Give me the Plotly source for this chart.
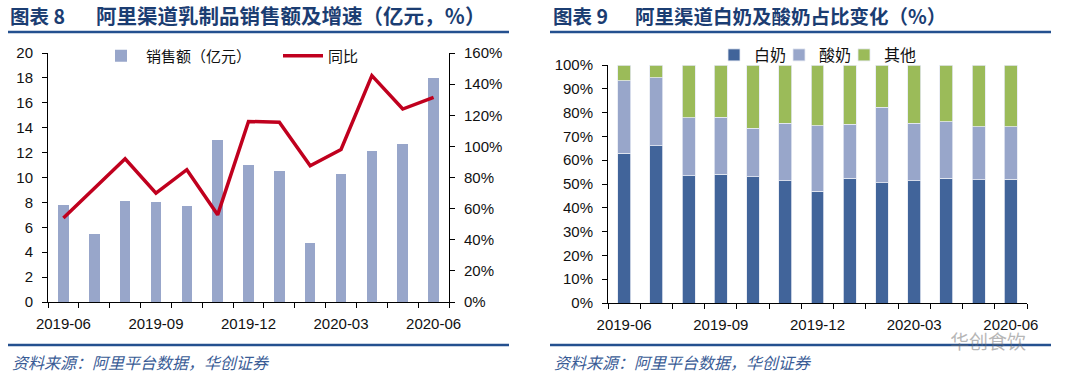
import plotly.graph_objects as go

# ---------------- data ----------------
months = ["2019-06", "2019-07", "2019-08", "2019-09", "2019-10", "2019-11", "2019-12",
          "2020-01", "2020-02", "2020-03", "2020-04", "2020-05", "2020-06"]
sales = [7.8, 5.5, 8.1, 8.0, 7.7, 13.0, 11.0, 10.5, 4.7, 10.3, 12.1, 12.7, 18.0]   # 亿元
yoy = [54, 73, 92, 70, 85, 56, 116, 115.5, 87.5, 98, 145.5, 124, 131.5]           # %

white_milk = [63.0, 66.0, 53.5, 54.2, 53.0, 51.3, 47.0, 52.4, 50.5, 51.3, 52.4, 51.7, 52.0]
yogurt = [30.4, 28.7, 24.4, 23.8, 20.4, 24.2, 27.5, 22.7, 31.7, 24.2, 23.8, 22.4, 22.1]
other = [6.6, 5.3, 22.1, 22.0, 26.6, 24.5, 25.5, 24.9, 17.8, 24.5, 23.8, 25.9, 25.9]

label_months = months[::3]

# ---------------- styling ----------------
W, H = 1072, 375
TICK_FONT = dict(family="Liberation Sans, Arial, sans-serif", size=15, color="#111111")
CJK = "Noto Sans CJK SC"
TITLE_BLUE = "#1B3D72"
LINE_BLUE = "#24508F"

def px_x(p):
    return p / W

def px_y(p):
    return 1 - p / H

idx = list(range(len(months)))
label_idx = idx[::3]

fig = go.Figure()

# left chart
fig.add_trace(go.Bar(x=idx, y=sales, width=0.34, marker=dict(color="#98A6CA", line=dict(width=0)),
                     name="销售额（亿元）", xaxis="x", yaxis="y", legend="legend"))
fig.add_trace(go.Scatter(x=idx, y=yoy, mode="lines", line=dict(color="#C0001E", width=3.5),
                         name="同比", xaxis="x", yaxis="y2", legend="legend"))

# right chart (one legend box per item for exact placement)
right_series = [(white_milk, "白奶", "#41649A", "legend2"),
                (yogurt, "酸奶", "#98A6CA", "legend3"),
                (other, "其他", "#9BBB59", "legend4")]
for vals, name, col, lg in right_series:
    fig.add_trace(go.Bar(x=idx, y=vals, width=0.4, name=name,
                         marker=dict(color=col, line=dict(width=0.8, color="#E6EAF2")),
                         xaxis="x2", yaxis="y3", legend=lg))

xcommon = dict(
    tickmode="array", tickvals=label_idx, ticktext=label_months, ticks="",
    range=[-0.5, len(months) - 0.5], showline=True, linecolor="#000000", linewidth=1,
    showgrid=False, zeroline=False, tickfont=TICK_FONT, ticklabelstandoff=8, automargin=False,
    minor=dict(tickmode="linear", tick0=-0.5, dtick=1, ticks="outside", ticklen=5,
               tickcolor="#000000", showgrid=False),
)
ycommon = dict(showline=True, linecolor="#000000", ticks="outside", ticklen=5,
               tickcolor="#000000", showgrid=False, zeroline=False, tickfont=TICK_FONT,
               ticklabelstandoff=6, automargin=False)

small_legend = dict(orientation="h", xanchor="left", yanchor="middle",
                    font=dict(family=CJK, size=16, color="#111111"), bgcolor="rgba(0,0,0,0)",
                    itemwidth=30)

fig.update_layout(
    width=W, height=H, margin=dict(l=0, r=0, t=0, b=0, autoexpand=False),
    paper_bgcolor="white", plot_bgcolor="white", barmode="stack",
    showlegend=True,
    xaxis=dict(domain=[px_x(48), px_x(449)], anchor="y", **xcommon),
    yaxis=dict(domain=[px_y(302), px_y(53)], range=[0, 20], dtick=2, anchor="x", **ycommon),
    yaxis2=dict(range=[0, 160], dtick=20, ticksuffix="%", overlaying="y", side="right",
                anchor="x", **ycommon),
    xaxis2=dict(domain=[px_x(608), px_x(1027)], anchor="y3", **xcommon),
    yaxis3=dict(domain=[px_y(303), px_y(65)], range=[0, 100], dtick=10, ticksuffix="%",
                anchor="x2", **ycommon),
    legend=dict(orientation="h", x=px_x(96), y=px_y(56), xanchor="left", yanchor="middle",
                font=dict(family=CJK, size=15, color="#111111"), bgcolor="rgba(0,0,0,0)",
                entrywidth=127, itemwidth=40, traceorder="normal"),
    legend2=dict(x=px_x(714), y=px_y(55), **small_legend),
    legend3=dict(x=px_x(779), y=px_y(55), **small_legend),
    legend4=dict(x=px_x(844), y=px_y(55), **small_legend),
)

# titles, rules, sources
shapes = []
for x0, x1 in [(8, 509), (550, 1051)]:
    shapes.append(dict(type="line", xref="paper", yref="paper", x0=px_x(x0), x1=px_x(x1),
                       y0=px_y(32), y1=px_y(32), line=dict(color=LINE_BLUE, width=2.5)))
    shapes.append(dict(type="line", xref="paper", yref="paper", x0=px_x(x0), x1=px_x(x1),
                       y0=px_y(345), y1=px_y(345), line=dict(color=LINE_BLUE, width=2.5)))
fig.update_layout(shapes=shapes)

ann = []
title_font = dict(family=CJK, size=19.5, color=TITLE_BLUE)
title_font_l = dict(family=CJK, size=20.5, color=TITLE_BLUE)
ann.append(dict(text="<b>图表 8</b>", x=px_x(8), y=px_y(15), xref="paper", yref="paper",
                xanchor="left", yanchor="middle", showarrow=False, font=title_font))
ann.append(dict(text="<b>阿里渠道乳制品销售额及增速（亿元，％）</b>", x=px_x(94), y=px_y(15),
                xref="paper", yref="paper", xanchor="left", yanchor="middle", showarrow=False,
                font=title_font_l))
ann.append(dict(text="<b>图表 9</b>", x=px_x(551), y=px_y(15), xref="paper", yref="paper",
                xanchor="left", yanchor="middle", showarrow=False, font=title_font))
ann.append(dict(text="<b>阿里渠道白奶及酸奶占比变化（%）</b>", x=px_x(633), y=px_y(15),
                xref="paper", yref="paper", xanchor="left", yanchor="middle", showarrow=False,
                font=title_font))
src_font = dict(family=CJK, size=16, color="#3A5C96")
for x0 in (10, 552):
    ann.append(dict(text="<i>资料来源：阿里平台数据，华创证券</i>", x=px_x(x0), y=px_y(362),
                    xref="paper", yref="paper", xanchor="left", yanchor="middle",
                    showarrow=False, font=src_font))
ann.append(dict(text="华创食饮", x=px_x(1028), y=px_y(340), xref="paper", yref="paper",
                xanchor="right", yanchor="middle", showarrow=False,
                font=dict(family=CJK, size=19, color="rgba(110,110,110,0.5)")))
fig.update_layout(annotations=ann)

fig.write_html("out.html", config={"displayModeBar": False},
               post_script="document.body.style.margin='0px';document.body.style.overflow='hidden';")
